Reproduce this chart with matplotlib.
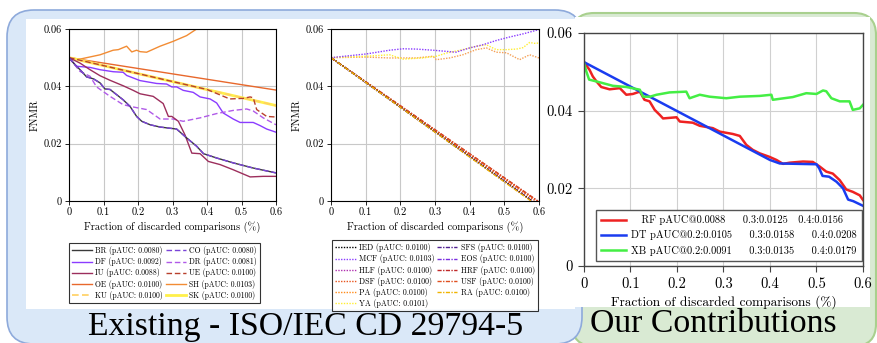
import matplotlib
matplotlib.use('Agg')
import matplotlib.pyplot as plt
from matplotlib.patches import FancyBboxPatch, Rectangle

# ---------------- data ----------------
# Chart 1 (existing quality measures)
BR_x = [0, 0.017, 0.032, 0.051, 0.071, 0.09, 0.104, 0.119, 0.138, 0.157, 0.177, 0.196, 0.211, 0.235, 0.264, 0.312, 0.341, 0.37, 0.39, 0.428, 0.476, 0.534, 0.6]
BR_y = [0.05, 0.0476, 0.0458, 0.0433, 0.0426, 0.0412, 0.0391, 0.0389, 0.0371, 0.0353, 0.033, 0.0295, 0.0278, 0.0266, 0.0258, 0.0251, 0.022, 0.0191, 0.0165, 0.015, 0.0133, 0.0115, 0.0098]
DF_x = [0, 0.022, 0.061, 0.09, 0.128, 0.157, 0.167, 0.206, 0.254, 0.283, 0.298, 0.312, 0.331, 0.36, 0.38, 0.409, 0.428, 0.447, 0.476, 0.496, 0.534, 0.554, 0.573, 0.6]
DF_y = [0.05, 0.047, 0.0466, 0.0458, 0.0451, 0.0449, 0.0438, 0.042, 0.041, 0.0408, 0.0398, 0.0398, 0.0386, 0.0379, 0.0363, 0.0356, 0.0342, 0.0307, 0.0286, 0.0274, 0.0274, 0.0263, 0.0251, 0.024]
DR_x = [0, 0.032, 0.061, 0.08, 0.119, 0.157, 0.186, 0.225, 0.264, 0.302, 0.331, 0.38, 0.428, 0.476, 0.515, 0.534, 0.563, 0.6]
DR_y = [0.05, 0.0452, 0.0435, 0.0398, 0.0365, 0.0336, 0.0328, 0.0319, 0.0286, 0.0286, 0.0278, 0.029, 0.0305, 0.0316, 0.0321, 0.0314, 0.029, 0.0266]
IU_x = [0, 0.032, 0.061, 0.09, 0.119, 0.157, 0.186, 0.206, 0.244, 0.273, 0.288, 0.298, 0.317, 0.336, 0.356, 0.38, 0.404, 0.438, 0.476, 0.525, 0.563, 0.6]
IU_y = [0.05, 0.0481, 0.0458, 0.0437, 0.0421, 0.0402, 0.0386, 0.0374, 0.0365, 0.034, 0.0295, 0.0295, 0.0278, 0.0231, 0.0167, 0.0165, 0.0138, 0.0127, 0.0109, 0.0084, 0.0086, 0.0086]
UE_x = [0, 0.4, 0.438, 0.466, 0.505, 0.525, 0.534, 0.544, 0.573, 0.6]
UE_y = [0.05, 0.0389, 0.037, 0.0356, 0.0358, 0.0363, 0.036, 0.0319, 0.0295, 0.0293]
OE_x = [0, 0.6]
OE_y = [0.05, 0.0387]
SH_x = [0, 0.032, 0.09, 0.128, 0.143, 0.167, 0.182, 0.196, 0.206, 0.225, 0.264, 0.302, 0.341, 0.37, 0.4]
SH_y = [0.05, 0.0495, 0.051, 0.0526, 0.0528, 0.054, 0.052, 0.0526, 0.0521, 0.0519, 0.054, 0.0557, 0.0577, 0.06, 0.0625]
KU_x = [0, 0.6]
KU_y = [0.05, 0.0333]
SK_x = [0, 0.6]
SK_y = [0.05, 0.0333]
labels1 = {"BR": "BR (pAUC: 0.0080)", "CO": "CO (pAUC: 0.0080)", "DF": "DF (pAUC: 0.0092)",
           "DR": "DR (pAUC: 0.0081)", "IU": "IU (pAUC: 0.0088)", "UE": "UE (pAUC: 0.0100)",
           "OE": "OE (pAUC: 0.0100)", "SH": "SH (pAUC: 0.0103)", "KU": "KU (pAUC: 0.0100)",
           "SK": "SK (pAUC: 0.0100)"}

# Chart 2
MCF_x = [0, 0.102, 0.169, 0.208, 0.246, 0.294, 0.333, 0.36, 0.4, 0.438, 0.477, 0.515, 0.554, 0.6]
MCF_y = [0.05, 0.0513, 0.0526, 0.0531, 0.053, 0.0526, 0.0522, 0.0519, 0.0534, 0.0545, 0.056, 0.0572, 0.0583, 0.0598]
YA_x = [0, 0.102, 0.169, 0.208, 0.265, 0.304, 0.333, 0.38, 0.42, 0.448, 0.477, 0.506, 0.535, 0.554, 0.573, 0.587, 0.6]
YA_y = [0.05, 0.0505, 0.051, 0.0495, 0.0499, 0.0505, 0.0516, 0.0528, 0.054, 0.0545, 0.0528, 0.0528, 0.053, 0.0535, 0.0553, 0.055, 0.0551]
PA_x = [0, 0.102, 0.169, 0.246, 0.294, 0.304, 0.342, 0.38, 0.419, 0.448, 0.477, 0.506, 0.544, 0.573, 0.6]
PA_y = [0.05, 0.0502, 0.0499, 0.0499, 0.0505, 0.0493, 0.0499, 0.051, 0.0528, 0.0534, 0.0519, 0.0517, 0.0493, 0.051, 0.0499]
DIAG_start = 0.05
DIAG_end = {"IED": 0.58, "HLF": 0.58, "SFS": 0.58, "EOS": 0.58, "HRF": 0.597,
            "USF": 0.595, "DSF": 0.59, "RA": 0.577}
labels2 = {"IED": "IED (pAUC: 0.0100)", "MCF": "MCF (pAUC: 0.0103)", "HLF": "HLF (pAUC: 0.0100)",
           "DSF": "DSF (pAUC: 0.0100)", "PA": "PA (pAUC: 0.0100)", "YA": "YA (pAUC: 0.0101)",
           "SFS": "SFS (pAUC: 0.0100)", "EOS": "EOS (pAUC: 0.0100)", "HRF": "HRF (pAUC: 0.0100)",
           "USF": "USF (pAUC: 0.0100)", "RA": "RA (pAUC: 0.0100)"}

# Chart 3 (our contributions)
RF_x = [0, 0.012, 0.019, 0.027, 0.037, 0.055, 0.077, 0.091, 0.105, 0.12, 0.13, 0.141, 0.152, 0.163, 0.17, 0.199, 0.206, 0.234, 0.249, 0.277, 0.292, 0.32, 0.335, 0.349, 0.363, 0.378, 0.399, 0.414, 0.428, 0.442, 0.471, 0.492, 0.507, 0.521, 0.535, 0.55, 0.564, 0.578, 0.593, 0.6]
RF_y = [0.0525, 0.0505, 0.0488, 0.0475, 0.0461, 0.0455, 0.0458, 0.0441, 0.0443, 0.0449, 0.0428, 0.0424, 0.0402, 0.0389, 0.038, 0.0383, 0.0372, 0.0369, 0.0361, 0.0355, 0.0346, 0.034, 0.0335, 0.0312, 0.0299, 0.029, 0.0281, 0.0273, 0.0263, 0.0266, 0.0269, 0.0268, 0.0256, 0.0243, 0.0238, 0.0221, 0.0197, 0.0191, 0.0182, 0.017]
DT_x = [0, 0.4, 0.421, 0.5, 0.506, 0.513, 0.527, 0.543, 0.557, 0.568, 0.579, 0.6]
DT_y = [0.0525, 0.0273, 0.0264, 0.0262, 0.0251, 0.0232, 0.023, 0.0217, 0.02, 0.0171, 0.0167, 0.0155]
XB_x = [0, 0.005, 0.011, 0.034, 0.062, 0.091, 0.12, 0.127, 0.142, 0.156, 0.184, 0.22, 0.227, 0.249, 0.27, 0.306, 0.335, 0.378, 0.403, 0.406, 0.424, 0.449, 0.478, 0.5, 0.514, 0.521, 0.532, 0.55, 0.571, 0.578, 0.593, 0.6]
XB_y = [0.0523, 0.0501, 0.048, 0.0473, 0.0464, 0.0461, 0.0454, 0.0436, 0.0436, 0.0441, 0.0447, 0.0449, 0.0432, 0.0441, 0.0436, 0.0432, 0.0436, 0.0438, 0.0441, 0.0428, 0.0431, 0.0435, 0.0445, 0.0443, 0.0452, 0.045, 0.0432, 0.0424, 0.0424, 0.0402, 0.0406, 0.0415]
labels3 = ["   RF pAUC@0.0088     0.3:0.0125   0.4:0.0156",
           "DT pAUC@0.2:0.0105     0.3:0.0158     0.4:0.0208",
           "XB pAUC@0.2:0.0091     0.3:0.0135     0.4:0.0179"]

xticks = [0, 0.1, 0.2, 0.3, 0.4, 0.5, 0.6]
xticklabels = ["0", "0.1", "0.2", "0.3", "0.4", "0.5", "0.6"]
yticks = [0, 0.02, 0.04, 0.06]
yticklabels = ["0", "0.02", "0.04", "0.06"]
xlabel = "Fraction of discarded comparisons (%)"
ylabel = "FNMR"
title_left = "Existing - ISO/IEC CD 29794-5"
title_right = "Our Contributions"

# ---------------- figure ----------------
CM = ['cmr10', 'DejaVu Serif']
W, H = 878, 343
fig = plt.figure(figsize=(W / 100, H / 100), dpi=100)

bg = fig.add_axes([0, 0, 1, 1], zorder=-10)
bg.set_xlim(0, W)
bg.set_ylim(H, 0)
bg.axis('off')
bg.add_patch(FancyBboxPatch((572, 13), 876 - 572, 346 - 13, boxstyle='round,pad=0,rounding_size=22',
                            fc='#d9ead3', ec='#a9d08e', lw=1.5))
bg.add_patch(FancyBboxPatch((7, 10), 582 - 7, 344 - 10, boxstyle='round,pad=0,rounding_size=27',
                            fc='#dae8f8', ec='#8eaadb', lw=1.2))
bg.add_patch(Rectangle((26, 19), 575 - 26, 309 - 19, fc='white', ec='none'))
bg.add_patch(Rectangle((575, 17), 870 - 575, 307 - 17, fc='white', ec='none'))
bg.text(88, 335, title_left, fontsize=24.3, family='Liberation Serif', va='baseline', ha='left')
bg.text(590, 332, title_right, fontsize=24.3, family='Liberation Serif', va='baseline', ha='left')


def px_axes(l, t, r, b):
    return fig.add_axes([l / W, 1 - b / H, (r - l) / W, (b - t) / H])


def style_small(ax):
    ax.set_xlim(0, 0.6)
    ax.set_ylim(0, 0.06)
    ax.set_xticks(xticks)
    ax.set_xticklabels(xticklabels, family=CM, fontsize=7.5)
    ax.set_yticks(yticks)
    ax.set_yticklabels(yticklabels, family=CM, fontsize=7.5)
    ax.grid(True, color='#c8c8c8', lw=0.8)
    ax.set_axisbelow(True)
    ax.tick_params(direction='out', length=3, width=0.6, pad=2)
    for s in ax.spines.values():
        s.set_linewidth(0.8)
    ax.set_xlabel(xlabel, family=CM, fontsize=7.5, labelpad=3)
    ax.set_ylabel(ylabel, family=CM, fontsize=7.5, labelpad=3)


# Chart 1
ax1 = px_axes(69, 29, 276, 201)
style_small(ax1)
lw1 = 1.0
h = {}
h['OE'], = ax1.plot(OE_x, OE_y, color='#e8682c', lw=lw1, label=labels1['OE'])
h['SH'], = ax1.plot(SH_x, SH_y, color='#f28c34', lw=lw1, label=labels1['SH'])
h['SK'], = ax1.plot(SK_x, SK_y, color='#fff04a', lw=2.0, label=labels1['SK'])
h['KU'], = ax1.plot(KU_x, KU_y, color='#ffd060', lw=1.2, ls=(0, (4, 2)), label=labels1['KU'])
h['UE'], = ax1.plot(UE_x, UE_y, color='#b8402c', lw=lw1, ls=(0, (4, 2)), label=labels1['UE'])
h['DF'], = ax1.plot(DF_x, DF_y, color='#8b3cff', lw=lw1, label=labels1['DF'])
h['DR'], = ax1.plot(DR_x, DR_y, color='#b05ae8', lw=lw1, ls=(0, (4, 2)), label=labels1['DR'])
h['IU'], = ax1.plot(IU_x, IU_y, color='#9c2e5c', lw=lw1, label=labels1['IU'])
h['BR'], = ax1.plot(BR_x, BR_y, color='#3a3a3a', lw=lw1, label=labels1['BR'])
h['CO'], = ax1.plot(BR_x, BR_y, color='#7a44d8', lw=lw1, ls=(0, (4, 2)), label=labels1['CO'])
order1 = ['BR', 'DF', 'IU', 'OE', 'KU', 'CO', 'DR', 'UE', 'SH', 'SK']
leg1 = fig.legend([h[k] for k in order1], [labels1[k] for k in order1], ncol=2,
                  loc='upper left', bbox_to_anchor=(69 / W, 1 - 243 / H), borderaxespad=0,
                  prop={'family': CM, 'size': 5.6}, frameon=True, fancybox=False,
                  edgecolor='black', handlelength=2.6, handletextpad=0.4, columnspacing=0.3,
                  labelspacing=0.28, borderpad=0.4)
leg1.get_frame().set_linewidth(0.8)

# Chart 2
ax2 = px_axes(331, 29, 539, 201)
style_small(ax2)
lw2 = 1.0
h2 = {}
diag_style = {"IED": ('black', (0, (1, 1))), "HLF": ('#b030b0', (0, (1, 1))),
              "SFS": ('#502090', (0, (3, 1, 1, 1))), "EOS": ('#7a2ee0', (0, (3, 1, 1, 1))),
              "HRF": ('#c02828', (0, (3, 1, 1, 1))), "USF": ('#e05020', (0, (3, 1, 1, 1))),
              "DSF": ('#e8541c', (0, (1, 1))), "RA": ('#f0b400', (0, (3, 1, 1, 1)))}
for k in ["SFS", "EOS", "HLF", "HRF", "USF", "DSF", "IED", "RA"]:
    c, ls = diag_style[k]
    h2[k], = ax2.plot([0, DIAG_end[k]], [DIAG_start, 0], color=c, ls=ls, lw=lw2, label=labels2[k])
h2['PA'], = ax2.plot(PA_x, PA_y, color='#f5a055', ls=(0, (1, 1)), lw=lw2, label=labels2['PA'])
h2['YA'], = ax2.plot(YA_x, YA_y, color='#ffee33', ls=(0, (1, 1)), lw=lw2, label=labels2['YA'])
h2['MCF'], = ax2.plot(MCF_x, MCF_y, color='#8a3cff', ls=(0, (1, 1)), lw=lw2, label=labels2['MCF'])
leg_pa = ax2.plot([], [], color='#ff8c1a', ls=(0, (1, 1)), lw=lw2)[0]
order2 = ['IED', 'MCF', 'HLF', 'DSF', 'PA', 'YA', 'SFS', 'EOS', 'HRF', 'USF', 'RA']
hh = [h2[k] if k != 'PA' else leg_pa for k in order2]
leg2 = fig.legend(hh, [labels2[k] for k in order2], ncol=2,
                  loc='upper left', bbox_to_anchor=(332 / W, 1 - 240 / H), borderaxespad=0,
                  prop={'family': CM, 'size': 5.7}, frameon=True, fancybox=False,
                  edgecolor='black', handlelength=2.6, handletextpad=0.4, columnspacing=0.3,
                  labelspacing=0.28, borderpad=0.4)
leg2.get_frame().set_linewidth(0.8)

# Chart 3
ax3 = px_axes(584, 33, 863, 266)
ax3.set_xlim(0, 0.6)
ax3.set_ylim(0, 0.06)
ax3.set_xticks(xticks)
ax3.set_xticklabels(xticklabels, family=CM, fontsize=10.5)
ax3.set_yticks(yticks)
ax3.set_yticklabels(yticklabels, family=CM, fontsize=10.5)
ax3.grid(True, color='#d0d0d0', lw=0.8)
ax3.set_axisbelow(True)
ax3.tick_params(direction='out', length=4, width=0.8, pad=4, color='#444444')
for s in ax3.spines.values():
    s.set_linewidth(1.0)
    s.set_color('#444444')
ax3.set_xlabel(xlabel, family=CM, fontsize=9.6, labelpad=3)
l_rf, = ax3.plot(RF_x, RF_y, color='#ee2222', lw=1.8)
l_dt, = ax3.plot(DT_x, DT_y, color='#1a3cf0', lw=1.8)
l_xb, = ax3.plot(XB_x, XB_y, color='#44ee44', lw=1.8)
leg3 = fig.legend([l_rf, l_dt, l_xb], labels3, loc='upper left',
                  bbox_to_anchor=(596 / W, 1 - 210 / H), borderaxespad=0,
                  prop={'family': CM, 'size': 7.5}, frameon=True, fancybox=False,
                  edgecolor='#555555', handlelength=2.4, handletextpad=0.5,
                  labelspacing=0.5, borderpad=0.5, framealpha=1)
leg3.get_frame().set_linewidth(1.0)

fig.savefig('out.png', dpi=100)
